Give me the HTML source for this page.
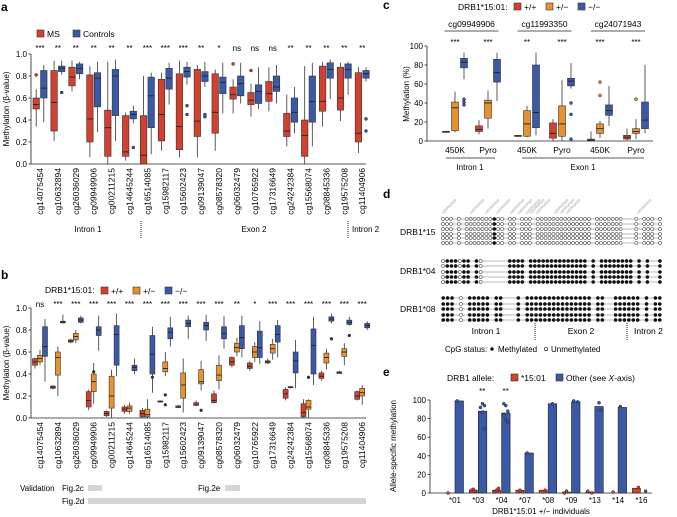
<!DOCTYPE html>
<html><head><meta charset="utf-8"><style>
body{margin:0;background:#fff;}
svg{display:block;font-family:"Liberation Sans",sans-serif;}
</style></head><body>
<svg id="fig" width="677" height="517" viewBox="0 0 677 517" xmlns="http://www.w3.org/2000/svg">
<g font-weight="bold" font-size="12" fill="#000">
<text x="1" y="11">a</text>
<text x="1" y="279">b</text>
<text x="383" y="9">c</text>
<text x="383" y="198">d</text>
<text x="383" y="376">e</text>
</g>
<g font-size="8.5">
<rect x="37" y="30" width="7" height="7" fill="#d2402f" stroke="#333" stroke-width="0.6"/><text x="47" y="37">MS</text>
<rect x="73" y="30" width="7" height="7" fill="#3a5aa8" stroke="#333" stroke-width="0.6"/><text x="83" y="37">Controls</text>
</g>
<g font-size="8.5">
<text x="45" y="293">DRB1*15:01:</text>
<rect x="101" y="287" width="7" height="7" fill="#d2402f" stroke="#333" stroke-width="0.6"/><text x="111" y="294">+/+</text>
<rect x="133" y="287" width="7" height="7" fill="#e8912f" stroke="#333" stroke-width="0.6"/><text x="143" y="294">+/−</text>
<rect x="165" y="287" width="7" height="7" fill="#3a5aa8" stroke="#333" stroke-width="0.6"/><text x="175" y="294">−/−</text>
</g>
<g font-size="8">
<text x="20" y="491">Validation</text><text x="62" y="491">Fig.2c</text>
<rect x="88" y="485" width="14" height="6" fill="#d4d4d4"/>
<text x="198" y="491">Fig.2e</text><rect x="225" y="485" width="15" height="6" fill="#d4d4d4"/>
<text x="62" y="504">Fig.2d</text><rect x="88" y="498" width="278" height="6" fill="#d4d4d4"/>
</g>
<g font-size="8.5">
<text x="458" y="10">DRB1*15:01:</text>
<rect x="514" y="3" width="7" height="7" fill="#d2402f" stroke="#333" stroke-width="0.6"/><text x="524" y="10">+/+</text>
<rect x="546" y="3" width="7" height="7" fill="#e8912f" stroke="#333" stroke-width="0.6"/><text x="556" y="10">+/−</text>
<rect x="578" y="3" width="7" height="7" fill="#3a5aa8" stroke="#333" stroke-width="0.6"/><text x="588" y="10">−/−</text>
</g>
<g font-size="8.5">
<text x="447" y="381">DRB1 allele:</text>
<rect x="511" y="374" width="7" height="7" fill="#d2402f" stroke="#333" stroke-width="0.6"/><text x="521" y="381">*15:01</text>
<rect x="556" y="374" width="7" height="7" fill="#3a5aa8" stroke="#333" stroke-width="0.6"/><text x="566" y="381">Other (see <tspan font-style="italic">X</tspan>-axis)</text>
</g>
<g id="gA"></g><g id="gB"></g><g id="gC"></g><g id="gD"></g><g id="gE"></g>
</svg>
<script>
const NS='http://www.w3.org/2000/svg';
const RED='#d2402f',ORG='#e8912f',BLU='#3a5aa8';
const cats=['cg14075454','cg10632894','cg26036029','cg09949906','cg00211215','cg14645244','cg16514085','cg15982117','cg15602423','cg09139047','cg08578320','cg06032479','cg10765922','cg17316649','cg24242384','cg15568074','cg08845336','cg19575208','cg11404906'];
const aMS=[[0.34,0.5,0.54,0.6,0.68],[0.21,0.3,0.56,0.85,0.94],[0.66,0.71,0.79,0.88,0.94],[0.06,0.2,0.41,0.81,0.89],[0,0.07,0.33,0.49,0.93],[0.03,0.07,0.11,0.44,0.47],[0,0,0.08,0.44,0.8],[0.12,0.21,0.45,0.77,0.83],[0.06,0.13,0.34,0.82,0.94],[0.06,0.25,0.39,0.86,0.9],[0.12,0.28,0.47,0.82,0.86],[0.46,0.59,0.63,0.7,0.77],[0.43,0.54,0.58,0.65,0.73],[0.48,0.57,0.64,0.75,0.88],[0.16,0.25,0.3,0.46,0.63],[0,0.07,0.26,0.4,0.89],[0.34,0.48,0.57,0.89,0.93],[0.39,0.49,0.6,0.88,0.92],[0.1,0.2,0.28,0.83,0.88]];
const aCtrl=[[0.38,0.6,0.69,0.85,0.9],[0.81,0.84,0.87,0.89,0.94],[0.77,0.82,0.87,0.91,0.93],[0.29,0.52,0.78,0.83,0.93],[0.21,0.44,0.8,0.86,0.95],[0.37,0.41,0.45,0.48,0.53],[0.09,0.33,0.62,0.79,0.83],[0.54,0.68,0.78,0.87,0.92],[0.72,0.79,0.84,0.88,0.93],[0.7,0.75,0.8,0.84,0.93],[0.46,0.64,0.74,0.79,0.92],[0.55,0.62,0.73,0.8,0.92],[0.5,0.55,0.66,0.72,0.88],[0.55,0.66,0.7,0.8,0.9],[0.28,0.38,0.47,0.6,0.7],[0.16,0.38,0.57,0.8,0.92],[0.59,0.78,0.86,0.92,0.95],[0.63,0.78,0.86,0.91,0.93],[0.75,0.78,0.82,0.85,0.88]];
const aMSOut=[[0,0.81],[11,0.91],[12,0.85]];
const aCtrlOut=[[1,0.65],[5,0.15],[8,0.53],[8,0.45],[9,0.45],[9,0.43],[18,0.41],[18,0.3]];
const aSig=['***','**','**','**','**','**','***','***','***','**','*','ns','ns','ns','**','**','**','**','**'];
const bHom=[[0.45,0.48,0.51,0.54,0.55],[0.26,0.27,0.28,0.29,0.3],[0.68,0.69,0.7,0.71,0.72],[0.07,0.1,0.16,0.24,0.26],[0.01,0.02,0.04,0.06,0.07],[0.04,0.06,0.08,0.1,0.12],[0,0.01,0.04,0.07,0.09],[0.14,0.145,0.15,0.155,0.16],[0.09,0.095,0.1,0.11,0.12],[0.11,0.115,0.12,0.14,0.16],[0.13,0.14,0.16,0.22,0.25],[0.46,0.48,0.51,0.55,0.56],[0.43,0.45,0.47,0.5,0.52],[0.49,0.5,0.51,0.52,0.54],[0.16,0.18,0.22,0.26,0.28],[0,0.01,0.05,0.13,0.17],[0.34,0.36,0.38,0.41,0.43],[0.4,0.405,0.41,0.42,0.43],[0.16,0.17,0.2,0.24,0.25]];
const bHet=[[0.48,0.51,0.54,0.57,0.62],[0.2,0.39,0.55,0.6,0.65],[0.68,0.71,0.74,0.77,0.8],[0.13,0.24,0.33,0.4,0.5],[0,0.09,0.2,0.38,0.44],[0.04,0.06,0.09,0.11,0.14],[0,0.01,0.03,0.08,0.17],[0.38,0.42,0.45,0.51,0.6],[0.05,0.18,0.3,0.41,0.54],[0.25,0.31,0.33,0.44,0.52],[0.26,0.34,0.39,0.48,0.57],[0.56,0.6,0.64,0.68,0.73],[0.51,0.55,0.6,0.65,0.69],[0.53,0.59,0.63,0.67,0.72],[0.27,0.275,0.28,0.285,0.29],[0,0.08,0.1,0.16,0.17],[0.44,0.5,0.55,0.59,0.63],[0.48,0.56,0.6,0.63,0.68],[0.12,0.2,0.23,0.27,0.3]];
const bNeg=[[0.33,0.56,0.65,0.83,0.9],[0.86,0.865,0.87,0.88,0.94],[0.86,0.87,0.89,0.91,0.93],[0.61,0.75,0.8,0.83,0.93],[0.38,0.48,0.76,0.84,0.95],[0.4,0.43,0.46,0.48,0.54],[0.23,0.4,0.58,0.75,0.83],[0.65,0.72,0.78,0.82,0.92],[0.72,0.83,0.86,0.89,0.93],[0.7,0.8,0.84,0.87,0.94],[0.63,0.72,0.77,0.83,0.93],[0.55,0.63,0.73,0.84,0.93],[0.49,0.55,0.64,0.79,0.88],[0.55,0.69,0.76,0.84,0.89],[0.27,0.41,0.52,0.6,0.71],[0.3,0.4,0.66,0.81,0.92],[0.86,0.88,0.9,0.92,0.95],[0.84,0.85,0.87,0.89,0.92],[0.8,0.82,0.84,0.86,0.88]];
const bOut=[[3,1,0.42],[6,2,0.37],[7,1,0.21],[7,1,0.12],[9,1,0.07],[15,1,0.37],[16,2,0.72],[17,2,0.75]];
const bSig=['ns','***','***','***','***','***','***','***','***','***','***','**','*','***','***','***','***','***','***'];
const cGroups=['450K','Pyro','450K','Pyro','450K','Pyro'];
const cHom=[[9,9,10,10,10],[7,10,12,16,22],[5,5,5,6,6],[0,3,8,19,23],[0,0,1,2,10],[1,2,4,6,13]];
const cHet=[[9,11,35,41,52],[13,24,40,43,53],[4,5,18,32,37],[0,5,18,37,64],[3,8,13,18,21],[2,8,10,13,23]];
const cNeg=[[65,77,83,87,93],[42,62,72,86,93],[6,14,30,80,93],[55,58,63,66,82],[16,27,32,38,58],[8,13,22,41,80]];
const cOut=[[0,2,44],[0,2,41],[0,2,38],[3,2,40],[3,2,28],[3,2,2],[4,1,62],[4,1,48],[5,1,44]];
const cSig=['***','***','**','***','***','***'];
const cProbes=['cg09949906','cg11993350','cg24071943'];
const eAlleles=['*01','*03','*04','*07','*08','*09','*13','*14','*16'];
const eRed=[0,3,3,3,3,1,1,0,5];
const eBlue=[99,88,86,43,96,98,93,92,0];
const eBlueDots=[[0,99],[1,96],[1,94],[1,92],[1,87],[1,69],[2,96],[2,94],[2,88],[2,84],[2,79],[2,76],[3,43],[4,96],[5,98],[5,99],[6,97],[6,89],[7,93],[8,2]];
const eRedDots=[[0,0],[1,4],[1,2],[1,3],[2,3],[2,5],[2,1],[3,3],[4,3],[5,0],[5,2],[6,0],[6,2],[7,1],[8,6]];
const eSig=['','**','**','','','','','',''];
const dRows15='ooo-o-oooooooxoo-oo-ooo-oooooooooooooo-ooooooo---o-ooo-o';
const dRows04='oxxxoxx-xo------xxxx-xxxxxxxxxxxxxx-x-xxxxxxxx-x-x--x';
const dRows08='xxx-o-xxxxx-xx---x-xxxxxxxxxxxxxxx-xx--xxxxxx-x-xx';

function mk(p,tag,attrs,name){const e=document.createElementNS(NS,tag);for(const k in attrs)e.setAttribute(k,attrs[k]);


p.appendChild(e);return e;}
function txt(p,x,y,s,size,anchor,name,extra){const t=mk(p,'text',Object.assign({x:x,y:y,'font-size':size,'text-anchor':anchor||'start'},extra||{}),name);t.textContent=s;return t;}
function box(p,cx,w,s,col,yf,name){
 mk(p,'line',{x1:cx,x2:cx,y1:yf(s[0]),y2:yf(s[4]),stroke:'#333','stroke-width':0.8},name+'-whisker');
 mk(p,'rect',{x:cx-w/2,y:yf(s[3]),width:w,height:Math.max(0.8,yf(s[1])-yf(s[3])),fill:col,stroke:'#333','stroke-width':0.6},name);
 mk(p,'line',{x1:cx-w/2,x2:cx+w/2,y1:yf(s[2]),y2:yf(s[2]),stroke:'#222','stroke-width':0.9},name+'-median');}
function dot(p,x,y,col,r,name){mk(p,'circle',{cx:x,cy:y,r:r||1.6,fill:col,stroke:'#222','stroke-width':0.5},name);}
function yAxis(p,x,yf,ticks,fmt,name){mk(p,'line',{x1:x,x2:x,y1:yf(ticks[ticks.length-1]),y2:yf(ticks[0]),stroke:'#222','stroke-width':0.8},name);
 ticks.forEach(t=>{mk(p,'line',{x1:x-2.5,x2:x,y1:yf(t),y2:yf(t),stroke:'#222','stroke-width':0.8},'y-tick');txt(p,x-4,yf(t)+3,fmt(t),8,'end','y-tick-label');});}

(function(){const g=document.getElementById('gA');const ya=v=>164-v*110;const cx=i=>40+i*17.9;
 yAxis(g,31,ya,[0,0.2,0.4,0.6,0.8,1.0],t=>t.toFixed(1),'y-axis-a');
 mk(g,'line',{x1:31,x2:366,y1:164,y2:164,stroke:'#222','stroke-width':0.8},'x-axis-a');
 txt(g,9,109,'Methylation (β-value)',8,'middle','y-axis-title-a',{transform:'rotate(-90 9 109)'});
 cats.forEach((c,i)=>{box(g,cx(i)-3.8,6.5,aMS[i],RED,ya,'box-ms-'+c);box(g,cx(i)+3.8,6.5,aCtrl[i],BLU,ya,'box-ctrl-'+c);
  txt(g,cx(i)+3,168,c,8.5,'end','x-label-a',{transform:'rotate(-90 '+(cx(i)+3)+' 168)'});
  txt(g,cx(i),51,aSig[i],8,'middle','sig-a');});
 aMSOut.forEach(o=>dot(g,cx(o[0])-3.8,ya(o[1]),RED,1.5,'outlier-ms'));
 aCtrlOut.forEach(o=>dot(g,cx(o[0])+3.8,ya(o[1]),BLU,1.5,'outlier-ctrl'));
 txt(g,88,232,'Intron 1',8,'middle','region-intron1-a');txt(g,254,232,'Exon 2',8,'middle','region-exon2-a');txt(g,352,232,'Intron 2',8,'start','region-intron2-a');
 [141,348].forEach(x=>mk(g,'line',{x1:x,x2:x,y1:221,y2:238,stroke:'#222','stroke-width':1,'stroke-dasharray':'1,1'},'region-divider-a'));
})();
(function(){const g=document.getElementById('gB');const yb=v=>418-v*110;const cx=i=>40+i*17.9;
 yAxis(g,31,yb,[0,0.2,0.4,0.6,0.8,1.0],t=>t.toFixed(1),'y-axis-b');
 mk(g,'line',{x1:31,x2:366,y1:418,y2:418,stroke:'#222','stroke-width':0.8},'x-axis-b');
 txt(g,9,363,'Methylation (β-value)',8,'middle','y-axis-title-b',{transform:'rotate(-90 9 363)'});
 cats.forEach((c,i)=>{box(g,cx(i)-5,5,bHom[i],RED,yb,'box-hom-'+c);box(g,cx(i),5,bHet[i],ORG,yb,'box-het-'+c);box(g,cx(i)+5,5,bNeg[i],BLU,yb,'box-neg-'+c);
  txt(g,cx(i)+3,422,c,8.5,'end','x-label-b',{transform:'rotate(-90 '+(cx(i)+3)+' 422)'});
  txt(g,cx(i),307,bSig[i],8,'middle','sig-b');});
 bOut.forEach(o=>dot(g,cx(o[0])+(o[1]-1)*5,yb(o[2]),'#333',1.4,'outlier-b'));
})();
(function(){const g=document.getElementById('gC');const yc=v=>141-v*0.95;const centers=[455,488,527,562,600,636];
 yAxis(g,427,yc,[0,20,40,60,80,100],t=>String(t),'y-axis-c');
 mk(g,'line',{x1:427,x2:653,y1:141,y2:141,stroke:'#222','stroke-width':0.8},'x-axis-c');
 txt(g,409,94,'Methylation (%)',8,'middle','y-axis-title-c',{transform:'rotate(-90 409 94)'});
 cGroups.forEach((gname,i)=>{const x=centers[i];box(g,x-9,7,cHom[i],RED,yc,'box-c-hom');box(g,x,7,cHet[i],ORG,yc,'box-c-het');box(g,x+9,7,cNeg[i],BLU,yc,'box-c-neg');
  txt(g,x,153,gname,8.5,'middle','x-label-c');txt(g,x,45,cSig[i],8,'middle','sig-c');});
 cOut.forEach(o=>dot(g,centers[o[0]]+(o[1]-1)*9,yc(o[2]),o[1]==1?ORG:BLU,1.5,'outlier-c'));
 cProbes.forEach((p,k)=>{const x=(centers[2*k]+centers[2*k+1])/2;txt(g,x,27,p,8.5,'middle','probe-header-c');
  mk(g,'line',{x1:x-27,x2:x+27,y1:31,y2:31,stroke:'#222','stroke-width':0.8},'probe-underline-c');});
 mk(g,'line',{x1:446,x2:495,y1:158,y2:158,stroke:'#222','stroke-width':0.8},'intron1-line-c');
 txt(g,470,170,'Intron 1',8,'middle','region-intron1-c');
 mk(g,'line',{x1:522,x2:644,y1:158,y2:158,stroke:'#222','stroke-width':0.8},'exon1-line-c');
 txt(g,583,170,'Exon 1',8,'middle','region-exon1-c');
})();
(function(){const g=document.getElementById('gD');const x0=441,x1=662;
 const sets=[[dRows15,[219,224,229,234,238,243],'DRB1*15',235],[dRows04,[261,266,272,277,282],'DRB1*04',274],[dRows08,[298,304,309,315,320],'DRB1*08',312]];
 sets.forEach(s=>{const pat=s[0];const w=(x1-x0)/pat.length;txt(g,400,s[3],s[2],8.5,'start','allele-label-d');
  s[1].forEach(y=>{mk(g,'line',{x1:x0,x2:x1,y1:y,y2:y,stroke:'#777','stroke-width':0.5},'haplotype-line');
   for(let i=0;i<pat.length;i++){const ch=pat[i];if(ch==='-')continue;
    mk(g,'circle',{cx:x0+w*(i+0.5),cy:y,r:1.6,fill:ch==='x'?'#111':'#fff',stroke:'#111','stroke-width':0.5},ch==='x'?'cpg-methylated':'cpg-unmethylated');}});});
 const probeX=[443,471,486,497,511,519,527,531,537,555,561,567,638];
 probeX.forEach(x=>txt(g,x,214,'cg00000000',3.5,'start','probe-label-d',{fill:'#999',transform:'rotate(-45 '+x+' 214)'}));
 txt(g,486,334,'Intron 1',8.5,'middle','region-intron1-d');txt(g,581,334,'Exon 2',8.5,'middle','region-exon2-d');txt(g,634,334,'Intron 2',8.5,'start','region-intron2-d');
 [535,627].forEach(x=>mk(g,'line',{x1:x,x2:x,y1:323,y2:341,stroke:'#222','stroke-width':1,'stroke-dasharray':'1,1'},'region-divider-d'));
 txt(g,445,352,'CpG status:',8,'start','cpg-legend-title');
 mk(g,'circle',{cx:492,cy:349,r:1.7,fill:'#111'},'legend-methylated-dot');txt(g,498,352,'Methylated',8,'start','legend-methylated');
 mk(g,'circle',{cx:546,cy:349,r:1.7,fill:'#fff',stroke:'#111','stroke-width':0.6},'legend-unmethylated-dot');txt(g,551,352,'Unmethylated',8,'start','legend-unmethylated');
})();
(function(){const g=document.getElementById('gE');const ye=v=>493-v*0.93;const cx=i=>455+i*23.3;
 yAxis(g,430,ye,[0,20,40,60,80,100],t=>String(t),'y-axis-e');
 mk(g,'line',{x1:430,x2:652,y1:493,y2:493,stroke:'#222','stroke-width':0.8},'x-axis-e');
 txt(g,396,446,'Allele-specific methylation',8,'middle','y-axis-title-e',{transform:'rotate(-90 396 446)'});
 eAlleles.forEach((a,i)=>{
  mk(g,'rect',{x:cx(i)-9,y:ye(eRed[i]),width:8,height:493-ye(eRed[i]),fill:RED,stroke:'#222','stroke-width':0.6},'bar-red-'+a);
  mk(g,'rect',{x:cx(i)+0,y:ye(eBlue[i]),width:8.5,height:493-ye(eBlue[i]),fill:BLU,stroke:'#222','stroke-width':0.6},'bar-blue-'+a);
  txt(g,cx(i),503,a,8,'middle','x-label-e');
  if(eSig[i])txt(g,cx(i)+4,394,eSig[i],8,'middle','sig-e');});
 eBlueDots.forEach((d,k)=>dot(g,cx(d[0])+4.2+((k%3)-1)*2,ye(d[1]),BLU,1.5,'point-blue'));
 eRedDots.forEach((d,k)=>dot(g,cx(d[0])-5+((k%3)-1)*2,ye(d[1]),RED,1.5,'point-red'));
 txt(g,541,514,'DRB1*15:01 +/− individuals',8,'middle','x-axis-title-e');
})();
</script>
</body></html>
